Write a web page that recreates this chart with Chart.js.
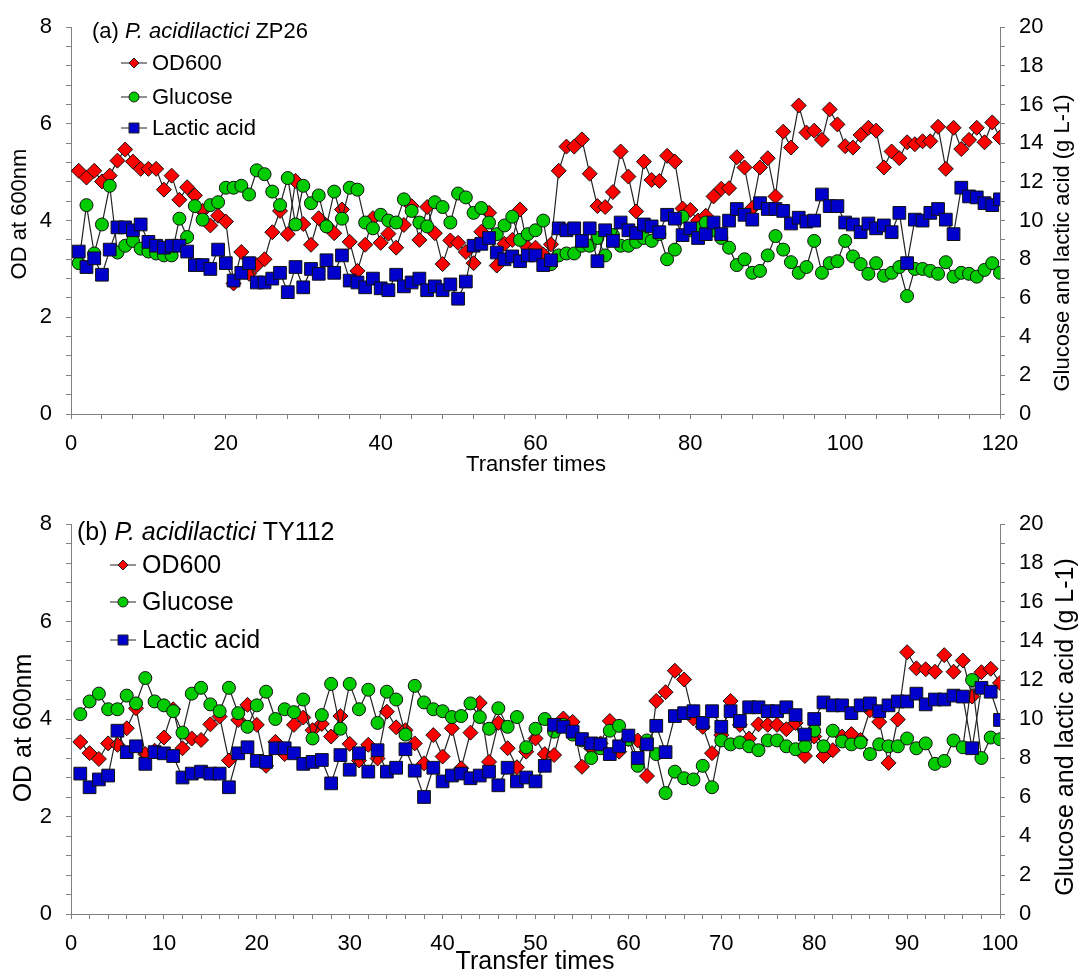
<!DOCTYPE html>
<html>
<head>
<meta charset="utf-8">
<script src="https://cdn.jsdelivr.net/npm/chart.js@4.4.1/dist/chart.umd.min.js"></script>
<style>
  body { margin: 0; background: #fff; }
  canvas { display: block; }
</style>
</head>
<body>
<canvas id="chartA" width="1078" height="486"></canvas>
<canvas id="chartB" width="1078" height="487"></canvas>
<script>
// Panel (a) P. acidilactici ZP26, transfers 1..120
var odA = [5.03,4.89,5.03,4.81,4.93,5.24,5.47,5.22,5.07,5.07,
  5.07,4.64,4.93,4.43,4.69,4.52,4.2,3.90,4.1,3.98,
  2.7,3.35,2.90,3.08,3.20,3.76,4.2,3.72,4.82,3.93,
  3.50,4.05,3.9,3.74,4.23,3.56,2.96,3.5,4.05,3.54,
  3.73,3.44,3.91,4.30,3.60,4.28,3.74,3.10,3.59,3.54,
  3.35,3.12,3.77,4.16,3.07,3.52,3.6,4.23,3.44,3.44,
  3.3,3.51,5.03,5.53,5.53,5.68,4.97,4.30,4.28,4.59,
  5.43,4.91,4.19,5.22,4.84,4.82,5.34,5.22,4.25,4.22,
  4.0,4.1,4.50,4.66,4.67,5.31,5.10,4.26,5.10,5.29,
  4.50,5.84,5.51,6.38,5.82,5.86,5.67,6.30,5.99,5.54,
  5.51,5.77,5.92,5.86,5.10,5.43,5.29,5.62,5.58,5.64,
  5.64,5.94,5.07,5.92,5.48,5.67,5.92,5.62,6.03,5.72];
var glucoseA = [7.8,10.8,8.3,9.8,11.8,8.35,8.7,8.95,8.55,8.4,
  8.3,8.2,8.2,10.1,9.15,10.75,10.05,10.8,10.95,11.7,
  11.7,11.8,11.35,12.6,12.4,11.5,10.8,12.2,9.8,11.8,
  10.9,11.3,9.7,11.5,10.1,11.7,11.6,9.9,9.6,10.3,
  10.0,9.9,11.1,10.5,9.9,9.7,10.95,10.7,9.9,11.4,
  11.2,10.4,10.65,9.9,9.3,9.75,10.2,9.0,9.3,9.5,
  10.0,7.75,8.2,8.3,8.3,8.7,8.7,9.1,8.2,9.25,
  8.7,8.7,8.9,9.1,8.95,9.3,8.0,8.5,10.2,9.5,
  9.6,9.9,9.5,9.1,8.6,7.7,8.0,7.3,7.4,8.2,
  9.2,8.5,7.85,7.3,7.6,8.95,7.3,7.8,7.9,8.95,
  8.15,7.75,7.25,7.8,7.15,7.3,7.6,6.1,7.5,7.5,
  7.4,7.25,7.85,7.1,7.3,7.25,7.1,7.45,7.8,7.3];
var lacticA = [8.4,7.6,8.05,7.2,8.5,9.65,9.65,9.5,9.8,8.9,
  8.7,8.6,8.7,8.7,8.4,7.7,7.7,7.5,8.5,7.8,
  6.9,7.3,7.8,6.8,6.8,7.0,7.3,6.3,7.6,6.55,
  7.5,7.25,7.95,7.3,8.2,6.9,6.8,6.55,7.0,6.5,
  6.4,7.2,6.6,6.8,7.0,6.4,6.6,6.4,6.7,5.96,
  6.85,8.7,8.8,9.1,8.35,8.0,8.15,7.9,8.2,8.2,
  7.7,7.95,9.6,9.5,9.6,8.95,9.6,7.9,9.5,8.95,
  9.9,9.5,9.35,9.8,9.7,9.4,10.3,10.1,9.25,9.6,
  9.1,9.3,9.9,9.3,10.0,10.6,10.3,10.05,10.9,10.6,
  10.6,10.5,9.85,10.15,9.95,10.0,11.35,10.75,10.75,9.9,
  9.8,9.4,9.85,9.6,9.75,9.4,10.4,7.8,10.05,10.0,
  10.4,10.6,10.05,9.3,11.7,11.25,11.2,10.9,10.8,11.1];

// Panel (b) P. acidilactici TY112, transfers 1..100
var odB = [3.53,3.30,3.18,3.50,3.47,3.81,4.22,3.28,3.35,3.62,
  4.20,3.40,3.60,3.57,3.89,4.05,3.15,3.98,4.29,3.88,
  3.04,3.53,3.28,3.88,4.03,3.77,3.9,3.64,4.06,3.49,
  3.15,3.47,3.19,4.15,3.83,3.77,3.5,3.09,3.67,3.23,
  3.81,2.99,3.72,4.33,3.12,3.92,3.40,3.01,3.33,3.6,
  3.28,3.26,4.01,3.94,3.02,3.40,3.50,3.96,3.33,3.59,
  3.56,2.83,4.37,4.55,4.99,4.81,4.01,3.84,3.30,3.67,
  4.37,3.88,3.60,3.89,3.88,3.88,3.79,3.92,3.24,3.64,
  3.24,3.36,3.64,3.69,3.57,4.18,3.94,3.10,3.99,5.37,
  5.04,5.02,4.97,5.31,4.97,5.20,4.46,4.96,5.03,4.74];
var glucoseB = [10.25,10.9,11.3,10.5,10.5,11.2,10.8,12.1,10.9,10.7,
  10.4,9.3,11.3,11.6,10.75,10.4,11.6,10.3,9.6,10.7,
  11.4,10.0,10.5,10.35,11.0,9.0,10.2,11.8,9.5,11.8,
  10.5,11.5,9.8,11.4,11.0,9.2,11.7,10.85,10.5,10.4,
  10.1,10.15,10.8,10.1,9.5,10.55,9.6,10.1,8.55,9.5,
  10.0,9.35,9.7,9.2,8.9,8.0,8.5,9.4,9.65,8.95,
  7.6,8.9,8.2,6.2,7.3,6.96,6.9,7.6,6.5,8.9,
  8.7,8.8,8.6,8.4,8.9,8.9,8.6,8.45,8.6,9.4,
  8.6,9.4,8.85,8.7,8.8,8.2,8.7,8.6,8.6,9.0,
  8.5,8.75,7.7,7.85,8.9,8.55,12.0,8.0,9.05,8.96];
var lacticB = [7.2,6.5,6.9,7.1,9.4,8.3,8.6,7.7,8.3,8.24,
  8.1,7.0,7.2,7.3,7.2,7.2,6.5,8.24,8.55,7.85,
  7.8,8.5,8.5,8.24,7.7,7.8,7.9,6.7,8.15,7.4,
  8.24,7.3,8.4,7.3,7.5,8.45,7.35,6.0,7.5,6.8,
  7.1,7.2,6.96,7.1,7.3,6.6,7.5,6.8,7.0,6.8,
  7.6,9.7,9.6,9.35,8.97,8.75,8.7,8.2,8.6,9.15,
  8.0,8.7,9.65,8.3,10.15,10.3,10.4,9.8,10.4,9.6,
  10.4,9.9,10.6,10.6,10.4,10.4,10.6,10.2,9.2,10.0,
  10.85,10.7,10.7,10.3,10.7,10.8,10.4,10.7,10.9,10.9,
  11.3,10.75,11.0,11.0,11.2,11.15,8.5,11.6,11.4,9.95];

var seriesNames = ['OD600', 'Glucose', 'Lactic acid'];
var FONT = 'Arial, "Liberation Sans", sans-serif';

function toPoints(arr) {
  return arr.map(function (v, i) { return { x: i + 1, y: v }; });
}

function isMultiple(v, step) {
  return Math.abs(v / step - Math.round(v / step)) < 1e-6;
}

// dibuja un marcador del mismo tipo que los de la serie (para la leyenda)
function drawMarker(ctx, type, x, y) {
  ctx.save();
  ctx.lineWidth = 1;
  ctx.strokeStyle = '#222';
  ctx.beginPath();
  if (type === 'diamond') {
    ctx.fillStyle = '#ff0000';
    ctx.moveTo(x, y - 5); ctx.lineTo(x + 5, y); ctx.lineTo(x, y + 5); ctx.lineTo(x - 5, y);
    ctx.closePath();
  } else if (type === 'circle') {
    ctx.fillStyle = '#00cc00';
    ctx.arc(x, y, 5, 0, Math.PI * 2);
  } else {
    ctx.fillStyle = '#0000cc';
    ctx.rect(x - 5, y - 5, 10, 10);
  }
  ctx.fill();
  ctx.stroke();
  ctx.restore();
}

function textPlugin(p) {
  return {
    id: 'panelText',
    afterDraw: function (chart) {
      var ctx = chart.ctx;
      ctx.save();
      ctx.fillStyle = '#000';
      ctx.textBaseline = 'middle';

      // titulo del panel: parte en cursiva
      var x = p.titleX;
      ctx.textAlign = 'left';
      p.title.forEach(function (part) {
        ctx.font = (part.italic ? 'italic ' : '') + p.bigFont + 'px ' + FONT;
        ctx.fillText(part.text, x, p.titleY);
        x += ctx.measureText(part.text).width;
      });

      // leyenda
      var types = ['diamond', 'circle', 'square'];
      ctx.font = p.bigFont + 'px ' + FONT;
      seriesNames.forEach(function (name, i) {
        var y = p.legendY[i];
        ctx.strokeStyle = '#222';
        ctx.lineWidth = 1;
        ctx.beginPath();
        ctx.moveTo(p.markX - 13, y);
        ctx.lineTo(p.markX + 13, y);
        ctx.stroke();
        drawMarker(ctx, types[i], p.markX, y);
        ctx.fillStyle = '#000';
        ctx.fillText(name, p.textX, y + 1);
      });

      // titulos de ejes
      ctx.textAlign = 'center';
      ctx.font = p.axisFont + 'px ' + FONT;
      ctx.fillText('Transfer times', p.xTitle[0], p.xTitle[1]);

      ctx.save();
      ctx.translate(p.leftTitle[0], p.leftTitle[1]);
      ctx.rotate(-Math.PI / 2);
      ctx.fillText('OD at 600nm', 0, 0);
      ctx.restore();

      ctx.save();
      ctx.translate(p.rightTitle[0], p.rightTitle[1]);
      ctx.rotate(-Math.PI / 2);
      ctx.fillText('Glucose and lactic acid (g L-1)', 0, 0);
      ctx.restore();

      ctx.restore();
    }
  };
}

function axisStyle() {
  return {
    grid: { drawOnChartArea: false, drawTicks: true, tickLength: 5, color: '#808080', tickColor: '#808080' },
    border: { display: true, color: '#808080', width: 1 }
  };
}

function buildChart(id, od, glucose, lactic, p) {
  var ax = axisStyle();
  var ctx = document.getElementById(id).getContext('2d');
  return new Chart(ctx, {
    type: 'line',
    data: {
      datasets: [
        {
          label: 'Lactic acid', data: toPoints(lactic), yAxisID: 'y2', order: 0,
          borderColor: '#222', borderWidth: 1.2, pointStyle: 'rect', pointRadius: 9,
          pointBackgroundColor: '#0000cc', pointBorderColor: '#111', pointBorderWidth: 1
        },
        {
          label: 'Glucose', data: toPoints(glucose), yAxisID: 'y2', order: 1,
          borderColor: '#222', borderWidth: 1.2, pointStyle: 'circle', pointRadius: 6.5,
          pointBackgroundColor: '#00cc00', pointBorderColor: '#111', pointBorderWidth: 1
        },
        {
          label: 'OD600', data: toPoints(od), yAxisID: 'y', order: 2,
          borderColor: '#222', borderWidth: 1.2, pointStyle: 'rectRot', pointRadius: 7.5,
          pointBackgroundColor: '#ff0000', pointBorderColor: '#111', pointBorderWidth: 1
        }
      ]
    },
    options: {
      responsive: false,
      animation: false,
      layout: { padding: { top: p.top, left: 0, right: 0, bottom: 0 } },
      plugins: { legend: { display: false }, tooltip: { enabled: false } },
      scales: {
        x: {
          type: 'linear', min: 0, max: p.xMax,
          grid: ax.grid, border: ax.border,
          ticks: {
            stepSize: p.xStep, autoSkip: false, maxRotation: 0, padding: 12,
            color: '#000', font: { family: FONT, size: 22 },
            callback: function (v) { return isMultiple(v, p.xLabelStep) ? v : ''; }
          },
          afterFit: function (s) { s.height = p.xHeight; }
        },
        y: {
          position: 'left', min: 0, max: 8,
          grid: ax.grid, border: ax.border,
          ticks: {
            stepSize: 0.4, autoSkip: false, padding: 14,
            color: '#000', font: { family: FONT, size: 22 },
            callback: function (v) { return isMultiple(v, 2) ? Math.round(v) : ''; }
          },
          afterFit: function (s) { s.width = 71; }
        },
        y2: {
          position: 'right', min: 0, max: 20,
          grid: ax.grid, border: ax.border,
          ticks: {
            stepSize: 1, autoSkip: false, padding: 14,
            color: '#000', font: { family: FONT, size: 22 },
            callback: function (v) { return isMultiple(v, 2) ? Math.round(v) : ''; }
          },
          afterFit: function (s) { s.width = 78; }
        }
      }
    },
    plugins: [textPlugin(p)]
  });
}

buildChart('chartA', odA, glucoseA, lacticA, {
  top: 24, xMax: 120, xStep: 4, xLabelStep: 20, xHeight: 72,
  bigFont: 22, axisFont: 22,
  title: [{ text: '(a) ' }, { text: 'P. acidilactici', italic: true }, { text: ' ZP26' }],
  titleX: 92, titleY: 32,
  legendY: [63, 97, 128], markX: 134, textX: 152,
  xTitle: [536, 465], leftTitle: [20, 214], rightTitle: [1063, 243]
});

buildChart('chartB', odB, glucoseB, lacticB, {
  top: 38, xMax: 100, xStep: 2, xLabelStep: 10, xHeight: 59,
  bigFont: 25, axisFont: 25,
  title: [{ text: '(b) ' }, { text: 'P. acidilactici', italic: true }, { text: ' TY112' }],
  titleX: 77, titleY: 47,
  legendY: [79, 116, 154], markX: 123, textX: 142,
  xTitle: [535, 476], leftTitle: [24, 242], rightTitle: [1066, 241]
});
</script>
</body>
</html>
